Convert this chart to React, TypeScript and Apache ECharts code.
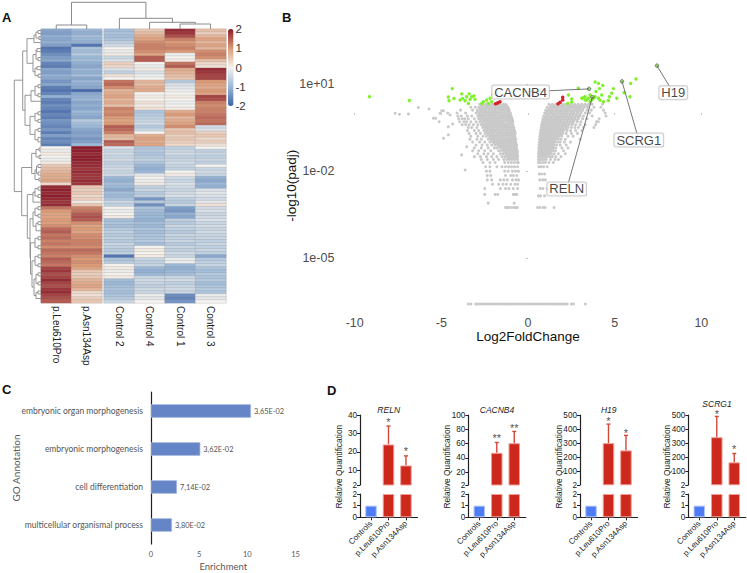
import React, { useEffect, useRef } from "react";
import * as echarts from "echarts";

const SANS = "'Liberation Sans', Arial, sans-serif";
const CALIBRI = "Lato, 'Open Sans', sans-serif";

// ---------- A: heatmap ----------
const leftSamples = ["p.Leu610Pro", "p.Asn134Asp"];
const rightSamples = ["Control 2", "Control 4", "Control 1", "Control 3"];
const leu = [-1.2,-1.3,-1.1,-1.2,-1.1,-1.3,-1.8,-1.7,-1.5,-1.3,-1.2,-1.6,-1.7,-1.2,-1.3,-1.1,-1.2,-1.4,-1.2,-1.7,-1.8,-1.6,-1.1,-1.6,-1.7,-1.5,-1.6,-1.8,-1.6,-1.7,-1.4,-1.5,-1.6,-1.4,-1.7,-1.3,-1.6,-1.5,-1.7,0,-.1,.1,0,-.1,.1,.5,.6,.7,.8,.8,.9,.3,1.9,2,1.9,2,1.9,1.8,1.9,1.3,1.0,.9,.9,1.0,.95,1.1,1.4,1.5,1.3,1.4,1.2,1.3,1.1,1.4,1.3,1.2,1.5,1.4,1.3,1.7,1.8,1.6,1.7,1.9,1.7,1.6,1.8,1.9,1.7,1.6,1.5];
const asn = [-1,-1.1,-.9,-1,-1.1,-1.8,-.8,-.9,-.7,-1,-.9,-1.1,-1.2,-1,-1.1,-.9,-1.2,-1,-1.1,-1.2,-1.9,-1.2,-1.1,-1,-1.2,-1.1,-1.2,-1,-1.1,-1.2,-.7,-.9,-1,-1.2,-1.3,-1.2,-1.4,-1.3,-1,2,2,1.9,2,2,1.9,1.9,1.8,1.9,1.8,1.8,1.9,1.8,.5,.4,.5,.3,.4,.1,.5,1.2,1.3,1.5,1.6,1.5,1.1,.9,1,.9,1.1,1.1,1.2,1.2,1.1,1.4,1.3,1.1,1,1.1,1,.9,.5,.4,.5,.7,.8,.9,.7,.3,.2,.4,.5];
const control2 = [-.9,-.8,-.9,-.8,-.6,-.4,0,-.1,.1,-.5,-.3,.4,.3,-.3,-.6,.2,0,1.3,1.4,1.1,.7,.8,.9,.7,.8,.6,1.2,1.1,1.2,1.0,.9,1,1.5,1.4,1.2,.7,.6,1.5,1.4,-.3,-.5,-.4,-.5,-.4,-.6,-.5,-.4,-.5,-.4,-1,-1.1,-.9,-1,-1.2,-.9,-1,-.8,-.5,-.6,0,-.1,0,.1,-.9,-.8,-.9,-.7,-.6,-.7,-.6,-.7,-.5,-.6,-.7,-.6,-1.8,-.8,-.7,0,.1,-.1,0,.1,-.9,-1,-.9,-.8,-.9,-.8,-.7,-.5];
const control4 = [.5,.6,.8,.9,1.1,1.2,1.2,1.1,.9,1.5,1.5,0,-.1,.1,-.3,-.1,0,.7,.6,.8,.8,0,.1,0,.2,.1,.2,-.8,-.7,-.6,-.5,-.4,-.7,-.5,0,.8,.9,.8,.9,-.8,-.7,-.8,-.7,-.6,-.8,-1,-1.1,-1,-.2,0,-.1,.1,-.6,-.5,-.7,-.6,-1.4,-.7,-1.5,-.8,-.9,-1,-1,-1.1,-.9,-1,-.8,-.9,-.8,-.8,-.7,-.9,0,.1,0,.1,-.5,-.6,-.5,-1,-1.1,-1,-.5,-.4,-.5,-.6,-.4,-.5,-.1,-.2,0];
const control1 = [1.9,1.8,1.6,1.2,1,1.1,1.2,1,-.1,0,.1,1.3,1.5,.8,.7,.6,.5,-.7,-.3,-.2,-.1,0,.1,0,-.1,0,.1,.8,1,.7,.8,.9,1.1,.5,.6,.4,.5,.4,.3,-.6,-.5,-.4,-.6,-.5,-.4,-.5,-.6,0,.1,-.4,-.5,-.3,-.4,-.5,-.4,-.3,-.6,-.7,-.5,-1.3,-1.4,-1.1,-1.2,-.6,-.7,-.5,-.6,-.7,-.5,-.6,-.5,-.7,-.5,-.6,-.4,-.5,-.1,-.1,-1,-1.1,-1,-.9,-.5,-.4,-.6,-.5,-.4,-.5,-1.5,-1.6,-1.4];
const control3 = [.6,.4,.7,.9,.7,.9,.7,1.1,1.2,1.1,.6,.3,.2,1.9,1.8,1.7,1.7,1,.9,.8,1,.9,1.7,1.6,1.2,1.1,1.2,1.2,1.3,1.4,1.3,1.4,-.4,-.3,.4,.5,.3,.4,.2,0,-.6,-.5,-.6,-.5,-.6,0,-.5,-.4,-.5,-1.1,-1.2,-1,-1.1,-.3,-.2,-.3,-.4,-.2,.2,-.4,-.3,-.5,-.4,-.3,-.5,-.4,-.5,-.4,-.5,-.5,-.6,-.5,-.6,-.5,-.6,-1.2,-.7,-.6,-.5,-.8,-.9,-.7,-.8,-.7,-.9,-.8,-.7,-.8,-.1,-.2,0];
const colorTicks = [-2, -1, 0, 1, 2];
// top dendrogram merges: [position A, position B, height A, height B, merge height]
const columnMerges = [[0.5,1.5,0,0,1.48],[4.56,5.56,0,0,1.85],[3.56,5.06,0,1.85,2.48],[2.57,4.31,0,2.48,3.96],[1,3.44,1.48,3.96,9.9]];
// left dendrogram merges: [row A, row B, distance A, distance B, merge distance]
const rowMerges = [
  [0.5,1.5,0,0,3],[2.5,3.5,0,0,2],[1,3,3,2,5],[2,4.5,5,0,7],
  [6.5,7.5,0,0,4],[9.5,10.5,0,0,3],[12.5,13.5,0,0,4],[15,16,0,0,3],[7,10,4,3,5],[13,15.5,4,3,6],[8.5,14.2,5,6,8],[3.2,11.4,7,8,14],
  [18.5,19.5,0,0,3],[21.5,22.5,0,0,3],[19,22,3,3,6],[20.5,24,6,0,10],
  [27.5,28.5,0,0,3],[30,31,0,0,3],[28,30.5,3,3,6],[33,34,0,0,3],[36,37.5,0,0,3],[33.5,36.8,3,3,6],[29,35,6,6,11],[22,32,10,11,16],[7.3,27,14,16,18.3],
  [39.5,40.5,0,0,2],[42,43,0,0,2],[40,42.5,2,2,5],[45,46,0,0,3],[47.5,48.5,0,0,3],[49.5,50.5,0,0,2],[45.5,48,3,3,4.5],[46.8,50,4.5,2,6],[41.3,48,5,6,9.3],
  [52.5,53.5,0,0,3],[55,56,0,0,3],[53,55.5,3,3,6],[54.2,57.5,6,0,8],
  [59,60,0,0,3],[61.5,62.5,0,0,3],[59.5,62,3,3,6],[64,65,0,0,3],[64.5,67,3,0,5],[60.8,65.5,6,5,8],
  [69,70,0,0,3],[72,73,0,0,3],[69.5,72.5,3,3,6],[75,76,0,0,3],[78,79,0,0,3],[75.5,78.5,3,3,6],[81,82,0,0,3],[84,85,0,0,3],[81.5,84.5,3,3,5],[87,88,0,0,3],[87.5,89.5,3,0,5],[83,88.5,5,5,7],[77,85.7,6,7,9],[71,81.4,6,9,10.5],[63,76,8,10.5,11],[55,69.5,8,11,13.7],[46,62,9.3,13.7,19.3],[17,54,18.3,19.3,26.7],
];

// ---------- B: volcano (x = log2 fold change, y = log10 of plotted value) ----------
const grayBandsLeft: [number, number[]][] = [
  [.3,[-2.78,-2.6,-2.44,-2.27,-2.1,-1.96,-1.78,-1.62,-1.45,-1.3]],
  [.2,[-3.3,-3.05,-2.85,-2.68,-2.5,-2.33,-2.17,-2,-1.83,-1.67,-1.5,-1.33,-1.17]],
  [.1,[-3.9,-3.2,-2.93,-2.75,-2.58,-2.42,-2.25,-2.08,-1.92,-1.75,-1.58,-1.42,-1.25,-1.1]],
  [0,[-4.1,-3.6,-3,-2.82,-2.65,-2.48,-2.32,-2.15,-1.98,-1.82,-1.65,-1.48,-1.32,-1.15,-1.02]],
  [-.1,[-4.05,-3.85,-3.5,-3.25,-2.9,-2.75,-2.58,-2.42,-2.25,-2.08,-1.92,-1.75,-1.58,-1.42,-1.25,-1.08,-.98]],
  [-.2,[-4,-3.8,-3.65,-3.45,-3.1,-2.85,-2.68,-2.5,-2.33,-2.17,-2,-1.83,-1.67,-1.5,-1.33,-1.17,-1,-.92]],
  [-.3,[-3.95,-3.7,-3.55,-3.3,-3,-2.78,-2.6,-2.44,-2.27,-2.1,-1.93,-1.77,-1.6,-1.44,-1.27,-1.1,-.95,-.88]],
  [-.4,[-3.8,-3.6,-3.4,-3.15,-2.9,-2.7,-2.52,-2.35,-2.18,-2.02,-1.85,-1.68,-1.52,-1.35,-1.18,-1.02,-.88]],
  [-.5,[-3.45,-3.25,-2.95,-2.62,-2.45,-2.28,-2.12,-1.95,-1.78,-1.62,-1.45,-1.28,-1.12,-.96,-.82]],
  [-.6,[-3.5,-3.1,-2.85,-2.55,-2.38,-2.2,-2.05,-1.88,-1.72,-1.55,-1.38,-1.22,-1.05,-.9,-.78]],
  [-.7,[-3.4,-3,-2.75,-2.48,-2.3,-2.14,-1.98,-1.8,-1.64,-1.48,-1.3,-1.15,-.98,-.84,-.74]],
  [-.8,[-3.3,-2.9,-2.6,-2.4,-2.22,-2.05,-1.88,-1.72,-1.55,-1.4,-1.22,-1.06,-.9,-.76]],
  [-.9,[-3.35,-2.95,-2.7,-2.3,-2.12,-1.95,-1.78,-1.62,-1.46,-1.3,-1.14,-.98,-.82,-.7]],
  [-1,[-3.2,-2.8,-2.5,-2.2,-2.02,-1.85,-1.68,-1.52,-1.36,-1.2,-1.04,-.88,-.72]],
  [-1.1,[-3,-2.65,-2.35,-2.1,-1.9,-1.75,-1.58,-1.42,-1.26,-1.1,-.94,-.78,-.66]],
  [-1.2,[-3.1,-2.7,-2.3,-1.95,-1.8,-1.62,-1.46,-1.3,-1.14,-.98,-.82,-.66]],
  [-1.3,[-3.2,-2.85,-2.5,-2.15,-1.7,-1.54,-1.38,-1.22,-1.06,-.9,-.74,-.62]],
  [-1.4,[-2.9,-2.55,-2.3,-2,-1.6,-1.44,-1.28,-1.12,-.96,-.8,-.64]],
  [-1.5,[-3.1,-2.75,-2.4,-2.1,-1.8,-1.5,-1.34,-1.18,-1.02,-.86,-.7,-.6]],
  [-1.6,[-2.7,-2.35,-2,-1.7,-1.4,-1.24,-1.08,-.92,-.76,-.6]],
  [-1.7,[-2.6,-2.2,-1.9,-1.35,-1.15,-.98,-.82,-.66,-.56]],
  [-1.85,[-2.45,-2.2,-1.8,-1.5,-1.3,-1.12,-.95,-.78,-.6]],
  [-2,[-2.4,-2.2,-1.35,-1.15,-.9,-.72,-.55]],
  [-2.15,[-2.35,-2.15,-1.3,-1,-.85,-.65]],
  [-2.3,[-2.35,-2.1,-1.6,-1.4,-1.2,-.9,-.7,-.55]],
  [-2.45,[-2.05,-1.7,-1.45,-1.25,-1,-.75,-.6]],
  [-2.6,[-2.5,-1.6,-1.3,-1.1,-.85,-.6]],
  [-2.8,[-2.5,-1.9,-1.75,-.85,-.75,-.65]],
  [-3.1,[-2.3,-.8]],
  [-3.25,[-1.3,-1.2,-1.1,-.95,-.8,-.7,-.62]],
  [.25,[-2.7,-2.52,-2.35,-2.18,-2.02,-1.87,-1.7,-1.54,-1.37,-1.22]],
  [.15,[-2.76,-2.6,-2.42,-2.25,-2.09,-1.92,-1.75,-1.6,-1.42,-1.25,-1.12]],
  [.05,[-2.9,-2.72,-2.56,-2.4,-2.23,-2.06,-1.9,-1.73,-1.56,-1.4,-1.23,-1.08]],
  [-.05,[-2.82,-2.66,-2.5,-2.33,-2.16,-2,-1.84,-1.66,-1.5,-1.33,-1.16,-1.02]],
  [-.15,[-2.76,-2.6,-2.42,-2.25,-2.08,-1.92,-1.75,-1.58,-1.42,-1.25,-1.08,-.96]],
  [-.25,[-2.7,-2.52,-2.36,-2.18,-2.02,-1.85,-1.68,-1.52,-1.36,-1.18,-1.02,-.9]],
  [-.35,[-2.62,-2.44,-2.27,-2.1,-1.94,-1.77,-1.6,-1.44,-1.26,-1.1,-.94]],
  [-.45,[-2.54,-2.36,-2.2,-2.04,-1.87,-1.7,-1.53,-1.36,-1.2,-1.04,-.88]],
  [-.55,[-2.46,-2.3,-2.12,-1.96,-1.8,-1.63,-1.46,-1.3,-1.13,-.97,-.83]],
  [-.65,[-2.4,-2.22,-2.06,-1.9,-1.72,-1.56,-1.4,-1.23,-1.06,-.9,-.77]],
  [-.75,[-2.3,-2.14,-1.97,-1.8,-1.64,-1.47,-1.3,-1.14,-.98,-.83]],
  [-.85,[-2.2,-2.05,-1.88,-1.7,-1.54,-1.38,-1.22,-1.06,-.9,-.76]],
  [-.95,[-2.1,-1.95,-1.78,-1.62,-1.45,-1.28,-1.12,-.96,-.8]],
  [-1.05,[-1.94,-1.76,-1.6,-1.44,-1.27,-1.12,-.96,-.8,-.7]],
  [-1.15,[-1.66,-1.5,-1.34,-1.18,-1.02,-.86,-.72]],
  [-1.25,[-1.45,-1.3,-1.14,-.98,-.82,-.68]],
  [-1.35,[-1.36,-1.2,-1.04,-.88,-.72,-.62]],
  [-1.45,[-1.2,-1.05,-.9,-.74,-.62]],
  [-1.55,[-1.15,-1,-.84,-.68]],
];
const grayBandsRight: [number, number[]][] = [
  [.3,[1.2,1.4,1.6,1.78,1.95,2.1,2.3,2.5,2.7,2.9,3.1,3.3,3.5,3.7,4.3]],
  [.2,[1.1,1.28,1.45,1.62,1.8,1.98,2.15,2.32,2.5,2.7,2.88,3.05,3.25,3.45,3.8,4.2]],
  [.1,[1.02,1.2,1.36,1.54,1.7,1.88,2.05,2.22,2.4,2.58,2.75,2.95,3.15,3.4,3.65,4.35]],
  [0,[.96,1.12,1.3,1.46,1.63,1.8,1.97,2.14,2.3,2.48,2.65,2.85,3.05,3.3,3.55,4.45]],
  [-.1,[.9,1.06,1.22,1.4,1.56,1.72,1.9,2.06,2.24,2.4,2.6,2.8,3,3.2,3.7,4.5]],
  [-.2,[.86,1,1.16,1.33,1.5,1.66,1.82,2,2.17,2.34,2.52,2.7,2.9,3.15,3.4,4.1]],
  [-.3,[.82,.96,1.12,1.28,1.44,1.6,1.76,1.93,2.1,2.27,2.45,2.62,2.85,3.05,3.95,4.05]],
  [-.4,[.78,.92,1.07,1.23,1.38,1.54,1.7,1.87,2.04,2.2,2.38,2.55,2.75,3,3.3,3.9]],
  [-.5,[.76,.88,1.02,1.18,1.33,1.48,1.64,1.8,1.96,2.12,2.3,2.5,2.7,2.9,3.2,3.8]],
  [-.6,[.72,.85,1,1.14,1.28,1.44,1.6,1.75,1.9,2.05,2.25,2.45,2.75,3.1]],
  [-.7,[.7,.82,.96,1.1,1.24,1.38,1.54,1.7,1.86,2,2.2,2.5,2.85]],
  [-.8,[.68,.8,.92,1.06,1.2,1.34,1.5,1.64,1.8,1.95,2.3,2.6]],
  [-.9,[.66,.78,.9,1.02,1.16,1.3,1.44,1.6,1.75,1.9,2.15,3.0]],
  [-1,[.65,.76,.88,1,1.12,1.26,1.4,1.55,1.7,1.85,2.1,2.45]],
  [-1.1,[.64,.74,.86,.98,1.1,1.22,1.36,1.5,1.65,1.85,2.2]],
  [-1.2,[.62,.72,.84,.96,1.08,1.2,1.34,1.46,1.6,1.95,2.3]],
  [-1.3,[.62,.72,.82,.94,1.06,1.18,1.3,1.44,1.58,2.05]],
  [-1.4,[.6,.7,.82,.94,1.05,1.2,1.35,1.5,1.75,2.15]],
  [-1.5,[.6,.72,.84,.96,1.1,1.25,1.4,1.6,1.9]],
  [-1.6,[.6,.7,.8,.92,1.05,1.3,1.55,1.75]],
  [-1.7,[.6,.7,.85,1,1.2,1.45]],
  [-1.85,[.62,.75,.9,1.1]],
  [-2.1,[.65,.78,.95]],
  [-2.3,[.68,.85,1]],
  [-2.6,[.7,.85,1.1]],
  [-2.85,[.6,.72,.95]],
  [-3.25,[.55,.7,.88,.98,1.5]],
  [.25,[1.3,1.5,1.7,1.87,2.03,2.2,2.4,2.6,2.8,3,3.2,3.4]],
  [.15,[1.2,1.36,1.54,1.7,1.9,2.06,2.24,2.4,2.6,2.8,2.96,3.15]],
  [.05,[1.1,1.28,1.44,1.62,1.8,1.96,2.14,2.3,2.5,2.66,2.85,3.05]],
  [-.05,[1.04,1.2,1.38,1.54,1.72,1.88,2.05,2.22,2.4,2.56,2.75,2.95]],
  [-.15,[.96,1.14,1.3,1.48,1.64,1.8,1.98,2.14,2.32,2.5,2.7,2.9]],
  [-.25,[.9,1.08,1.24,1.4,1.58,1.74,1.9,2.08,2.25,2.42,2.6,2.8]],
  [-.35,[.88,1.04,1.2,1.36,1.52,1.68,1.85,2.02,2.18,2.35,2.55]],
  [-.45,[.84,.98,1.14,1.3,1.46,1.62,1.78,1.95,2.12,2.28]],
  [-.55,[.8,.94,1.08,1.24,1.38,1.54,1.7,1.86,2,2.18]],
  [-.65,[.78,.92,1.06,1.2,1.36,1.52,1.67,1.82,1.98]],
  [-.75,[.76,.9,1.03,1.16,1.3,1.46,1.6,1.76,1.9]],
  [-.85,[.74,.86,.98,1.12,1.26,1.4,1.56,1.7]],
  [-.95,[.72,.84,.96,1.08,1.22,1.36,1.5]],
  [-1.05,[.7,.82,.94,1.06,1.18,1.32,1.46]],
  [-1.15,[.68,.8,.92,1.04,1.16,1.28,1.42]],
  [-1.25,[.66,.78,.88,1,1.12,1.24,1.38]],
  [-1.35,[.65,.76,.88,1,1.12,1.28]],
  [-1.45,[.65,.77,.9,1.02,1.16]],
];
const grayScattered = [[-7.67,-.01],[-7.42,-.04],[-6.9,-.03],[-6.33,.19],[-5.71,.14],[-5.46,-.18],[-5.33,-.18],[-5.08,-.01],[-4.98,.08],[-4.88,.08],[-5.13,-.3],[-4.63,0],[-4.5,-.07],[-4.6,-.47],[-4.35,-.38],[-4.88,-.87],[-4.6,-.75],[-3.63,-1.96],[-3.83,-1.44],[-3.54,-1.16]];
const zeroPadjBand = -6.57;
const zeroPadjFold = [-3.45,-3.3,-3.02,-2.9,-2.78,-2.66,-2.54,-2.42,-2.3,-2.18,-2.06,-1.94,-1.82,-1.7,-1.58,-1.46,-1.34,-1.22,-1.1,-.98,-.86,-.74,-.62,-.5,-.38,-.26,-.14,-.02,.1,.22,.34,.46,.58,.7,.82,.94,1.06,1.18,1.3,1.42,1.54,1.66,1.78,1.9,2.02,2.14,2.26,2.5,2.62,3.3];
const greenPoints = [[-9.15,.56],[-6.85,.43],[-4.37,.84],[-4.6,.55],[-4.56,.42],[-4.27,.5],[-3.83,.66],[-3.77,.5],[-3.92,.45],[-3.63,.42],[-3.54,.56],[-3.4,.66],[-3.25,.56],[-3.12,.59],[-3.35,.47],[-3.06,.47],[-3.44,.33],[-2.58,.39],[-2.38,.45],[-2.19,.51],[-2.04,.62],[-2.67,.33],[-2.29,.33],[-2.1,.39],[2.33,.62],[2.52,.48],[2.29,.33],[2.52,.38],[2.9,.85],[3.1,.51],[3.29,.56],[3.38,.45],[3.58,.62],[3.67,.45],[3.87,1.07],[4.06,1.02],[4.31,.95],[4.12,.84],[3.92,.74],[3.87,.56],[4.06,.51],[4.25,.62],[4.15,.45],[4.69,.56],[4.63,.43],[4.92,.84],[4.83,.68],[5.12,.51],[6.23,1.17],[5.92,1.02],[5.54,.7],[5.88,.56],[3.48,.51],[3.19,.53],[3.77,.51],[3.58,.39],[3.29,.45],[4.35,.39]];
const redPoints = [[-1.87,.32],[-1.75,.35],[-1.62,.39],[2,.54],[2,.45],[1.85,.37],[1.73,.32]];
const geneNames = ["H19", "SCRG1", "CACNB4", "RELN"];
const genePoints = [[7.44,1.63],[5.42,1.09],[3.52,.83],[3.71,.55]];
const geneLabelPoints = [[8.38,.7],[6.39,-.93],[-.43,.72],[2.23,-2.61]];
const volcanoXTicks = [-10, -5, 0, 5, 10];
const volcanoYTicks = [-5, -2, 1];

// ---------- C: enrichment ----------
const goTerms = ["embryonic organ morphogenesis", "embryonic morphogenesis", "cell differentiation", "multicellular organismal process"];
const goEnrichment = [10.38, 5.12, 2.7, 2.18];
const goPvalues = ["3,65E-02", "3,62E-02", "7,14E-02", "3,80E-02"];

// ---------- D: qPCR ----------
const qpcrGroups = ["Controls", "p.Leu610Pro", "p.Asn134Asp"];
const relnValues = [1, 24, 12.6], relnUpper = [0, 34, 17.8], relnStars = ["", "*", "*"], relnStarAt = [0, 36, 20.4], relnTicks = [2, 10, 20, 30, 40];
const cacnValues = [1, 47, 60.5], cacnUpper = [0, 61.5, 77], cacnStars = ["", "**", "**"], cacnStarAt = [0, 68, 82], cacnTicks = [2, 20, 40, 60, 80, 100];
const h19Values = [1, 300, 248], h19Upper = [0, 435, 355], h19Stars = ["", "*", "*"], h19StarAt = [0, 460, 375], h19Ticks = [2, 100, 200, 300, 400, 500];
const scrgValues = [1, 342, 163], scrgUpper = [0, 490, 226], scrgStars = ["", "*", "*"], scrgStarAt = [0, 508, 260], scrgTicks = [2, 100, 200, 300, 400, 500];

const flatBands = (bands: [number, number[]][]) => bands.flatMap(([e, xs]) => xs.map((x) => [x, e]));

function buildOption() {
  const grid: any[] = [], xAxis: any[] = [], yAxis: any[] = [], series: any[] = [], graphic: any[] = [];
  const addGrid = (g: any, x: any, y: any) => {
    grid.push({ containLabel: false, ...g });
    xAxis.push({ gridIndex: grid.length - 1, ...x });
    yAxis.push({ gridIndex: grid.length - 1, ...y });
    return grid.length - 1;
  };
  const hidden = { show: false };

  // --- A
  const rows = leu.map((_, i) => String(i));
  const hmAxis = (cats: string[]) => ({
    type: "category", data: cats, axisLine: hidden, axisTick: hidden,
    axisLabel: { rotate: -90, interval: 0, fontFamily: SANS, fontSize: 10, color: "#222", margin: 3 },
  });
  const hmY = { type: "category", data: rows, inverse: true, show: false };
  const g0 = addGrid({ left: 41, top: 29, width: 61, height: 274 }, hmAxis(leftSamples), hmY);
  const g1 = addGrid({ left: 104, top: 29, width: 122, height: 274 }, hmAxis(rightSamples), hmY);
  const cell = (cols: number[][]) => cols.flatMap((c, x) => c.map((v, y) => [x, y, v]));
  const hmStyle = { borderColor: "rgba(140,140,140,0.38)", borderWidth: 0.6 };
  series.push({ type: "heatmap", xAxisIndex: g0, yAxisIndex: g0, data: cell([leu, asn]), itemStyle: hmStyle, progressive: 0 });
  series.push({ type: "heatmap", xAxisIndex: g1, yAxisIndex: g1, data: cell([control2, control4, control1, control3]), itemStyle: hmStyle, progressive: 0 });

  const dendroStyle = { stroke: "#8a8a8a", lineWidth: 1, fill: "none" };
  const gTop = addGrid({ left: 41, top: 2, width: 185, height: 27 }, { type: "value", min: 0, max: 6.066, show: false }, { type: "value", min: 0, max: 10, show: false });
  series.push({
    type: "custom", xAxisIndex: gTop, yAxisIndex: gTop, data: columnMerges, clip: false,
    renderItem: (_: any, api: any) => ({
      type: "polyline", silent: true,
      shape: { points: [[api.value(0), api.value(2)], [api.value(0), api.value(4)], [api.value(1), api.value(4)], [api.value(1), api.value(3)]].map((p) => api.coord(p)) },
      style: dendroStyle,
    }),
  });
  const gLeft = addGrid({ left: 14, top: 29, width: 27, height: 274 }, { type: "value", min: 0, max: 27, inverse: true, show: false }, { type: "value", min: 0, max: 91, inverse: true, show: false });
  series.push({
    type: "custom", xAxisIndex: gLeft, yAxisIndex: gLeft, data: rowMerges, clip: false,
    renderItem: (_: any, api: any) => ({
      type: "polyline", silent: true,
      shape: { points: [[api.value(2), api.value(0)], [api.value(4), api.value(0)], [api.value(4), api.value(1)], [api.value(3), api.value(1)]].map((p) => api.coord(p)) },
      style: { ...dendroStyle, lineWidth: 0.9 },
    }),
  });
  addGrid({ left: 228, top: 29, width: 5.5, height: 77 }, { type: "value", show: false }, {
    type: "value", position: "right", min: -2, max: 2, interval: 1, axisLine: hidden, axisTick: hidden, splitLine: hidden,
    axisLabel: { fontFamily: SANS, fontSize: 11.5, color: "#333", margin: 2, customValues: colorTicks },
  });

  // --- B
  const gV = addGrid({ left: 337.4, top: 54.9, width: 381.3, height: 261.6 }, {
    type: "value", min: -11, max: 11, splitLine: hidden, axisLine: hidden,
    axisTick: { show: true, length: 2, lineStyle: { color: "#aaa", width: 0.7 }, customValues: volcanoXTicks },
    axisLabel: { fontFamily: SANS, fontSize: 12.5, color: "#4d4d4d", margin: 0, customValues: volcanoXTicks, formatter: (v: number) => String(v) },
    name: "Log2FoldChange", nameLocation: "middle", nameGap: 13, nameMoveOverlap: false, nameTextStyle: { fontFamily: SANS, fontSize: 13.5, color: "#111" },
  }, {
    type: "value", min: -7, max: 2, splitLine: hidden, axisLine: hidden,
    axisTick: { show: true, length: 2, lineStyle: { color: "#aaa", width: 0.7 }, customValues: volcanoYTicks },
    axisLabel: { fontFamily: SANS, fontSize: 12.5, color: "#4d4d4d", margin: 3, customValues: volcanoYTicks, formatter: (v: number) => (v === 1 ? "1e+01" : v === -2 ? "1e-02" : "1e-05") },
    name: "-log10(padj)", nameLocation: "middle", nameGap: 39, nameMoveOverlap: false, nameTextStyle: { fontFamily: SANS, fontSize: 13.5, color: "#111" },
  });
  const pts = (data: number[][], color: string, size: number, z = 2) => ({
    type: "scatter", xAxisIndex: gV, yAxisIndex: gV, data, symbolSize: size, z, itemStyle: { color, opacity: 1 }, silent: true,
  });
  const gray = [...flatBands(grayBandsLeft), ...flatBands(grayBandsRight), ...grayScattered, ...zeroPadjFold.map((x) => [x, zeroPadjBand])];
  series.push(pts(gray, "#c9c9c9", 3, 2));
  series.push(pts(greenPoints, "#7ff02a", 3.4, 3));
  series.push(pts(redPoints, "#d3222a", 3.6, 4));
  series.push({
    ...pts(genePoints, "#7fd04a", 3.6, 5),
    itemStyle: { color: "#7fd04a", borderColor: "#555", borderWidth: 0.8 },
  });
  genePoints.forEach((p, i) => {
    series.push({
      type: "line", xAxisIndex: gV, yAxisIndex: gV, data: [p, geneLabelPoints[i]], showSymbol: false, silent: true, z: 6,
      lineStyle: { color: "#555", width: 0.8 },
    });
  });
  series.push({
    type: "scatter", xAxisIndex: gV, yAxisIndex: gV, symbolSize: 0, silent: true, z: 7,
    data: geneLabelPoints.map((p, i) => ({ name: geneNames[i], value: p })),
    label: {
      show: true, position: "inside", formatter: (d: any) => d.name, fontFamily: SANS, fontSize: 13, color: "#111", lineHeight: 12,
      backgroundColor: "#fff", borderColor: "#bdbdbd", borderWidth: 1, borderRadius: 1.5, padding: [1, 2, 0, 2],
    },
  });

  // --- C
  const gC = addGrid({ left: 151, top: 392, width: 144.5, height: 152 }, {
    type: "value", min: 0, max: 15, interval: 5, splitLine: hidden, axisLine: hidden, axisTick: hidden,
    axisLabel: { fontFamily: CALIBRI, fontSize: 7.5, color: "#595959", margin: 6 },
    name: "Enrichment", nameLocation: "middle", nameGap: 17, nameMoveOverlap: false, nameTextStyle: { fontFamily: CALIBRI, fontSize: 9.5, color: "#595959" },
  }, {
    type: "category", data: goTerms, inverse: true, axisTick: hidden,
    axisLine: { show: true, lineStyle: { color: "#222", width: 1.2 } },
    axisLabel: { fontFamily: CALIBRI, fontSize: 8.5, color: "#555", margin: 8, interval: 0 },
    name: "GO Annotation", nameLocation: "middle", nameGap: 130, nameMoveOverlap: false, nameTextStyle: { fontFamily: CALIBRI, fontSize: 10, color: "#595959" },
  });
  series.push({
    type: "bar", xAxisIndex: gC, yAxisIndex: gC, data: goEnrichment, barWidth: 13.5, silent: true,
    itemStyle: { color: "#6685c7", borderColor: "#a9bde3", borderWidth: 0.7 },
    label: { show: true, position: "right", distance: 3, fontFamily: CALIBRI, fontSize: 7.4, color: "#555", formatter: (d: any) => goPvalues[d.dataIndex] },
  });

  // --- D
  const redFill = { color: "#cc281c", borderColor: "#ee9c94", borderWidth: 1 };
  const blueFill = { color: "#4d7cf5", borderColor: "#aec4fb", borderWidth: 1 };
  const axLine = { show: true, onZero: false, lineStyle: { color: "#222", width: 1.2 } };
  const tick = { show: true, length: 3, lineStyle: { color: "#222", width: 1 } };
  const small = { fontFamily: SANS, fontSize: 8.2, color: "#222", margin: 3 };
  const panel = (title: string, axisX: number, titleY: number, vals: number[], upper: number[], stars: string[], starAt: number[], ticks: number[]) => {
    const top = ticks[ticks.length - 1];
    const xCommon = { type: "value", min: -0.63, max: 2.66, splitLine: hidden };
    const gU = addGrid({ left: axisX, top: 415, width: 57.5, height: 70 }, { ...xCommon, show: false }, {
      type: "value", min: 2, max: top, splitLine: hidden, axisLine: axLine, axisTick: { ...tick, customValues: ticks },
      axisLabel: { ...small, customValues: ticks, showMinLabel: true },
    });
    const gL = addGrid({ left: axisX, top: 494, width: 57.5, height: 23.3 }, {
      ...xCommon, axisLine: axLine, axisTick: { ...tick, customValues: [0, 1, 2] },
      axisLabel: { ...small, rotate: 45, fontSize: 8, margin: 5, customValues: [0, 1, 2], formatter: (v: number) => qpcrGroups[Math.round(v)] },
    }, {
      type: "value", min: 0, max: 2, interval: 1, splitLine: hidden, axisLine: axLine, axisTick: tick, axisLabel: small,
    });
    series.push({
      type: "bar", xAxisIndex: gU, yAxisIndex: gU, barWidth: 11.5, silent: true, itemStyle: redFill,
      data: [[1, vals[1]], [2, vals[2]]],
    });
    series.push({
      type: "bar", xAxisIndex: gL, yAxisIndex: gL, barWidth: 11.5, silent: true,
      data: vals.map((v, i) => ({ value: [i, Math.min(v, 2)], itemStyle: i === 0 ? blueFill : redFill })),
    });
    series.push({
      type: "custom", xAxisIndex: gU, yAxisIndex: gU, clip: false, silent: true,
      data: [[1, vals[1], upper[1]], [2, vals[2], upper[2]]],
      renderItem: (_: any, api: any) => {
        const a = api.coord([api.value(0), api.value(1)]);
        const b = api.coord([api.value(0), api.value(2)]);
        return {
          type: "group",
          children: [
            { type: "line", shape: { x1: a[0], y1: a[1], x2: b[0], y2: b[1] }, style: { stroke: "#d4483c", lineWidth: 1.4 } },
            { type: "line", shape: { x1: b[0] - 2, y1: b[1], x2: b[0] + 2, y2: b[1] }, style: { stroke: "#d4483c", lineWidth: 1.4 } },
          ],
        };
      },
    });
    series.push({
      type: "scatter", xAxisIndex: gU, yAxisIndex: gU, symbolSize: 0, clip: false, silent: true,
      data: [1, 2].map((i) => ({ value: [i, starAt[i]], name: stars[i] })),
      label: { show: true, position: "inside", formatter: (d: any) => d.name, fontFamily: SANS, fontSize: 11, lineHeight: 9, color: "#222" },
    });
    graphic.push({ type: "text", x: axisX + 28.7, y: titleY, style: { text: title, font: `italic 8.5px ${SANS}`, fill: "#222", textAlign: "center", textVerticalAlign: "middle" } });
    graphic.push({ type: "text", x: axisX - 21.5, y: 466.7, rotation: Math.PI / 2, style: { text: "Relative Quantification", font: `8.4px ${SANS}`, fill: "#222", textAlign: "center", textVerticalAlign: "middle" } });
  };
  panel("RELN", 360, 410, relnValues, relnUpper, relnStars, relnStarAt, relnTicks);
  panel("CACNB4", 468.3, 410, cacnValues, cacnUpper, cacnStars, cacnStarAt, cacnTicks);
  panel("H19", 580, 410, h19Values, h19Upper, h19Stars, h19StarAt, h19Ticks);
  panel("SCRG1", 688.3, 403.5, scrgValues, scrgUpper, scrgStars, scrgStarAt, scrgTicks);

  // panel letters
  ([["A", 2, 17], ["B", 282, 17], ["C", 2, 389], ["D", 327, 390]] as [string, number, number][]).forEach(([t, x, y]) => {
    graphic.push({ type: "text", x, y, style: { text: t, font: `bold 13px ${SANS}`, fill: "#111", textVerticalAlign: "middle" } });
  });

  return {
    animation: false, backgroundColor: "#fff", grid, xAxis, yAxis, series, graphic,
    visualMap: [{
      type: "continuous", seriesIndex: [0, 1], min: -2, max: 2, dimension: 2, calculable: false, hoverLink: false,
      left: 228, top: 29, padding: 0, itemWidth: 5.5, itemHeight: 77, text: undefined,
      inRange: { color: ["#3f63a8", "#9bb8d8", "#f5f3ef", "#dc9a75", "#8e1c2c"] },
    }],
  };
}

export default function App() {
  const ref = useRef<HTMLDivElement>(null);
  useEffect(() => {
    const chart = echarts.init(ref.current!, undefined, { renderer: "svg" });
    chart.setOption(buildOption() as any);
    return () => chart.dispose();
  }, []);
  return <div ref={ref} style={{ position: "absolute", left: 0, top: 0, width: 747, height: 573 }} />;
}
